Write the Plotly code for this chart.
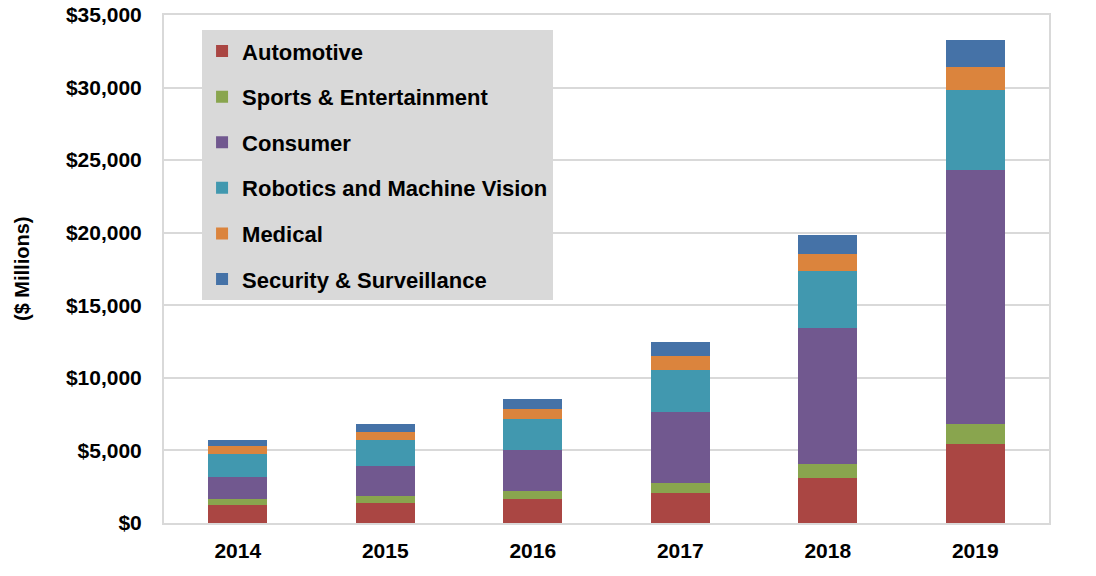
import plotly.graph_objects as go

years = ["2014", "2015", "2016", "2017", "2018", "2019"]
automotive = [1250, 1400, 1650, 2050, 3100, 5450]
sports = [400, 450, 550, 700, 950, 1400]
consumer = [1550, 2050, 2800, 4900, 9400, 17500]
robotics = [1550, 1800, 2150, 2900, 3900, 5500]
medical = [550, 600, 700, 950, 1150, 1550]
security = [400, 500, 700, 950, 1350, 1900]

series = [
    ("Automotive", automotive, "#AA4643"),
    ("Sports & Entertainment", sports, "#89A54E"),
    ("Consumer", consumer, "#71588F"),
    ("Robotics and Machine Vision", robotics, "#4198AF"),
    ("Medical", medical, "#DB843D"),
    ("Security & Surveillance", security, "#4572A7"),
]

FONT = "Liberation Sans, Arial, sans-serif"

fig = go.Figure()
for name, vals, color in series:
    fig.add_trace(go.Bar(
        x=years, y=vals, name=name, legendgroup=name,
        marker=dict(color=color, line=dict(width=0)),
    ))

fig.update_layout(
    width=1096, height=576,
    barmode="stack", bargap=0.6,
    plot_bgcolor="white", paper_bgcolor="white",
    margin=dict(l=164, r=47, t=15, b=53, pad=0, autoexpand=False),
    font=dict(family=FONT, size=21, color="#000000"),
    legend=dict(
        x=0.043, y=0.970, xanchor="left", yanchor="top",
        bgcolor="#d9d9d9", borderwidth=0,
        traceorder="grouped", tracegroupgap=14,
        font=dict(family=FONT, size=22, color="#000000", weight="bold"),
    ),
    xaxis=dict(
        type="category", showgrid=False, automargin=False,
        showline=True, linecolor="#d9d9d9", linewidth=2, mirror=True,
        tickfont=dict(family=FONT, size=21, weight="bold"),
        ticks="", ticklabelstandoff=8,
    ),
    yaxis=dict(
        range=[0, 35000], dtick=5000, tickprefix="$", tickformat=",",
        showgrid=True, gridcolor="#d9d9d9", gridwidth=2, automargin=False,
        showline=True, linecolor="#d9d9d9", linewidth=2, mirror=True,
        zeroline=False,
        tickfont=dict(family=FONT, size=21, weight="bold"),
        ticks="", ticklabelstandoff=16,
    ),
    annotations=[dict(
        text="($ Millions)", xref="paper", yref="paper",
        x=(22 - 164) / 885, y=0.5, xanchor="center", yanchor="middle",
        textangle=-90, showarrow=False,
        font=dict(family=FONT, size=20, weight="bold", color="#000000"),
    )],
)

fig.write_html(
    "out.html",
    config={"displayModeBar": False},
    post_script="document.body.style.margin='0';document.body.style.overflow='hidden';",
)
